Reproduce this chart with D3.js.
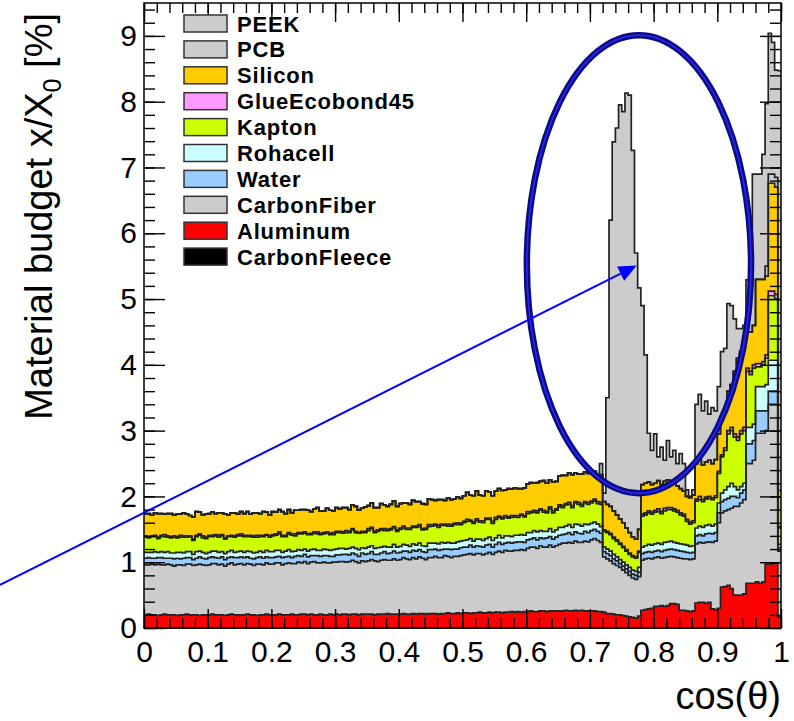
<!DOCTYPE html>
<html lang="en">
<head>
<meta charset="utf-8">
<script src="https://d3js.org/d3.v7.min.js"></script>
<style>
  body { margin: 0; background: #fff; }
  text { font-family: "Liberation Sans", Arial, Helvetica, sans-serif; }
</style>
</head>
<body>
<div id="chart"></div>
<script>
// stacking order, bottom to top
const materials = ["CarbonFleece", "Aluminum", "CarbonFiber", "Water", "Rohacell",
                   "Kapton", "GlueEcobond45", "Silicon", "PCB", "PEEK"];
const colors = ["#000000", "#ff0000", "#cccccc", "#99ccff", "#ccffff",
                "#ccff00", "#ff99ff", "#ffcc00", "#cccccc", "#cccccc"];

const xTickLabels = ["0", "0.1", "0.2", "0.3", "0.4", "0.5", "0.6", "0.7", "0.8", "0.9", "1"];
const yTickLabels = ["0", "1", "2", "3", "4", "5", "6", "7", "8", "9"];

// 200 bins in cos(theta), values in % of X0
const nBins = 200;

const carbonFleece = [
0,0,0,0,0,0,0,0,0,0, 0,0,0,0,0,0,0,0,0,0, 0,0,0,0,0,0,0,0,0,0, 0,0,0,0,0,0,0,0,0,0,
0,0,0,0,0,0,0,0,0,0, 0,0,0,0,0,0,0,0,0,0, 0,0,0,0,0,0,0,0,0,0, 0,0,0,0,0,0,0,0,0,0,
0,0,0,0,0,0,0,0,0,0, 0,0,0,0,0,0,0,0,0,0, 0,0,0,0,0,0,0,0,0,0, 0,0,0,0,0,0,0,0,0,0,
0,0,0,0,0,0,0,0,0,0, 0,0,0,0,0,0,0,0,0,0, 0,0,0,0,0,0,0,0,0,0, 0,0,0,0,0,0,0,0,0,0,
0,0,0,0,0,0,0,0,0,0, 0,0,0,0,0,0,0,0,0,0, 0,0,0,0,0,0,0,0,0,0, 0,0,0,0,0,0,0,0,0,0];

const aluminum = [
0.20,0.21,0.20,0.20,0.19,0.20,0.21,0.20,0.20,0.20,
0.19,0.20,0.20,0.21,0.20,0.20,0.20,0.19,0.20,0.20,
0.20,0.21,0.20,0.20,0.20,0.19,0.20,0.21,0.20,0.20,
0.20,0.20,0.21,0.20,0.20,0.19,0.20,0.20,0.21,0.20,
0.20,0.20,0.21,0.20,0.20,0.20,0.21,0.20,0.20,0.21,
0.21,0.20,0.21,0.20,0.20,0.21,0.20,0.20,0.21,0.20,
0.21,0.20,0.21,0.21,0.20,0.21,0.21,0.20,0.21,0.21,
0.21,0.21,0.20,0.21,0.21,0.21,0.22,0.21,0.21,0.21,
0.21,0.22,0.21,0.21,0.22,0.21,0.22,0.22,0.21,0.22,
0.22,0.22,0.21,0.22,0.22,0.23,0.22,0.22,0.23,0.22,
0.23,0.23,0.22,0.23,0.23,0.24,0.23,0.23,0.24,0.23,
0.24,0.24,0.23,0.24,0.24,0.25,0.24,0.25,0.24,0.25,
0.25,0.26,0.25,0.25,0.26,0.26,0.25,0.26,0.26,0.26,
0.26,0.26,0.27,0.26,0.26,0.27,0.26,0.27,0.26,0.26,
0.26,0.26,0.25,0.25,0.24,0.22,0.22,0.21,0.20,0.20,
0.19,0.18,0.17,0.16,0.15,0.18,0.27,0.28,0.29,0.30,
0.33,0.33,0.34,0.33,0.34,0.37,0.37,0.36,0.27,0.27,
0.26,0.25,0.26,0.38,0.39,0.39,0.38,0.39,0.29,0.28,
0.30,0.62,0.63,0.65,0.60,0.50,0.50,0.50,0.52,0.68,
0.68,0.68,0.70,0.68,0.70,0.97,0.97,0.98,0.99,0.17];

const carbonFiber = [
0.76,0.75,0.77,0.76,0.78,0.76,0.75,0.77,0.76,0.74,
0.77,0.76,0.75,0.76,0.77,0.75,0.76,0.78,0.76,0.75,
0.76,0.77,0.78,0.76,0.77,0.75,0.77,0.78,0.76,0.77,
0.78,0.76,0.77,0.77,0.75,0.78,0.77,0.76,0.78,0.77,
0.77,0.79,0.78,0.76,0.78,0.79,0.77,0.78,0.80,0.78,
0.80,0.78,0.79,0.81,0.79,0.78,0.80,0.79,0.78,0.80,
0.79,0.81,0.80,0.79,0.81,0.82,0.80,0.79,0.81,0.80,
0.81,0.83,0.82,0.80,0.82,0.83,0.81,0.82,0.84,0.82,
0.83,0.85,0.84,0.83,0.85,0.84,0.86,0.84,0.83,0.85,
0.85,0.87,0.86,0.85,0.88,0.86,0.85,0.87,0.86,0.88,
0.88,0.89,0.91,0.88,0.90,0.89,0.88,0.90,0.91,0.89,
0.91,0.93,0.92,0.94,0.93,0.92,0.94,0.93,0.95,0.93,
0.96,0.97,0.98,0.96,0.99,0.97,0.98,1.00,0.97,0.99,
1.01,1.03,1.02,1.04,1.03,1.05,1.04,1.03,1.06,1.05,
1.08,1.10,1.08,1.05,0.84,0.83,0.80,0.77,0.75,0.72,
0.69,0.66,0.63,0.60,0.59,0.60,0.76,0.77,0.77,0.75,
0.74,0.75,0.72,0.74,0.74,0.72,0.71,0.71,0.79,0.78,
0.79,0.79,0.79,0.90,0.91,0.90,0.92,0.92,1.01,1.04,
1.30,1.13,1.15,1.15,1.22,1.35,1.35,1.40,1.43,1.82,
1.82,1.87,2.26,2.28,2.26,2.03,2.43,2.42,2.41,1.00];

const water = [
0.10,0.11,0.09,0.10,0.10,0.11,0.10,0.09,0.10,0.11,
0.10,0.09,0.11,0.10,0.10,0.09,0.10,0.11,0.10,0.10,
0.11,0.10,0.09,0.10,0.11,0.10,0.10,0.09,0.11,0.10,
0.10,0.11,0.10,0.09,0.10,0.10,0.11,0.10,0.09,0.10,
0.10,0.09,0.10,0.11,0.10,0.10,0.09,0.11,0.10,0.10,
0.11,0.10,0.10,0.09,0.11,0.10,0.10,0.11,0.10,0.09,
0.11,0.10,0.11,0.12,0.10,0.11,0.11,0.10,0.12,0.11,
0.11,0.12,0.10,0.11,0.11,0.12,0.10,0.11,0.12,0.11,
0.11,0.10,0.12,0.11,0.11,0.12,0.11,0.10,0.11,0.12,
0.12,0.11,0.11,0.12,0.10,0.11,0.12,0.11,0.11,0.12,
0.12,0.11,0.13,0.12,0.12,0.11,0.12,0.13,0.12,0.11,
0.12,0.13,0.12,0.11,0.13,0.12,0.12,0.13,0.12,0.12,
0.13,0.12,0.14,0.13,0.12,0.13,0.14,0.13,0.12,0.13,
0.14,0.13,0.14,0.15,0.13,0.14,0.14,0.13,0.15,0.14,
0.14,0.14,0.14,0.14,0.08,0.08,0.08,0.07,0.07,0.06,
0.06,0.06,0.06,0.06,0.06,0.07,0.10,0.10,0.10,0.10,
0.10,0.10,0.10,0.11,0.11,0.11,0.11,0.11,0.11,0.11,
0.10,0.10,0.10,0.12,0.12,0.11,0.13,0.13,0.13,0.13,
0.15,0.17,0.17,0.17,0.18,0.15,0.13,0.15,0.15,0.30,
0.30,0.30,0.34,0.34,0.34,0.30,0.20,0.20,0.20,0.05];

const rohacell = [
0.09,0.08,0.09,0.10,0.08,0.09,0.09,0.10,0.08,0.09,
0.09,0.10,0.08,0.09,0.09,0.08,0.10,0.09,0.09,0.08,
0.08,0.09,0.10,0.09,0.08,0.09,0.09,0.10,0.08,0.09,
0.09,0.08,0.09,0.10,0.09,0.08,0.09,0.09,0.10,0.09,
0.09,0.10,0.09,0.08,0.09,0.10,0.09,0.08,0.09,0.09,
0.08,0.09,0.09,0.10,0.08,0.09,0.10,0.09,0.09,0.10,
0.09,0.10,0.09,0.08,0.10,0.09,0.09,0.10,0.08,0.09,
0.10,0.09,0.09,0.10,0.09,0.08,0.10,0.09,0.10,0.09,
0.09,0.10,0.09,0.09,0.10,0.09,0.10,0.09,0.09,0.10,
0.10,0.09,0.10,0.11,0.09,0.10,0.10,0.09,0.11,0.10,
0.10,0.11,0.10,0.09,0.10,0.11,0.10,0.10,0.11,0.10,
0.10,0.11,0.10,0.11,0.10,0.10,0.11,0.10,0.11,0.11,
0.11,0.10,0.11,0.12,0.11,0.11,0.10,0.12,0.11,0.11,
0.12,0.11,0.12,0.12,0.11,0.12,0.13,0.12,0.11,0.12,
0.11,0.11,0.11,0.10,0.07,0.07,0.07,0.07,0.06,0.06,
0.06,0.06,0.06,0.06,0.06,0.07,0.10,0.10,0.11,0.11,
0.11,0.11,0.11,0.12,0.12,0.12,0.11,0.11,0.11,0.11,
0.11,0.10,0.10,0.12,0.13,0.13,0.13,0.13,0.12,0.13,
0.15,0.13,0.15,0.18,0.20,0.15,0.12,0.10,0.10,0.25,
0.25,0.25,0.37,0.37,0.37,0.40,0.47,0.47,0.47,0.05];

const kapton = [
0.23,0.22,0.24,0.23,0.21,0.23,0.24,0.22,0.23,0.24,
0.22,0.23,0.24,0.22,0.23,0.21,0.23,0.24,0.22,0.23,
0.24,0.22,0.23,0.23,0.24,0.22,0.23,0.21,0.23,0.24,
0.23,0.24,0.22,0.23,0.24,0.23,0.22,0.24,0.23,0.22,
0.24,0.23,0.25,0.24,0.22,0.24,0.25,0.23,0.24,0.25,
0.24,0.25,0.23,0.24,0.25,0.24,0.23,0.25,0.24,0.23,
0.25,0.24,0.23,0.25,0.24,0.26,0.24,0.25,0.23,0.24,
0.25,0.26,0.24,0.25,0.26,0.24,0.25,0.26,0.25,0.24,
0.26,0.25,0.24,0.26,0.25,0.27,0.25,0.24,0.26,0.25,
0.26,0.27,0.25,0.26,0.27,0.25,0.26,0.28,0.26,0.25,
0.27,0.28,0.26,0.27,0.28,0.26,0.27,0.29,0.27,0.26,
0.28,0.27,0.29,0.28,0.27,0.29,0.28,0.27,0.29,0.28,
0.29,0.30,0.28,0.29,0.31,0.29,0.28,0.30,0.29,0.30,
0.31,0.30,0.32,0.31,0.30,0.32,0.31,0.30,0.32,0.31,
0.31,0.32,0.31,0.34,0.24,0.25,0.25,0.24,0.24,0.23,
0.22,0.21,0.20,0.20,0.20,0.23,0.47,0.47,0.48,0.47,
0.48,0.48,0.47,0.48,0.49,0.48,0.48,0.47,0.44,0.43,
0.36,0.34,0.35,0.41,0.40,0.39,0.40,0.40,0.40,0.40,
0.45,0.55,0.60,0.80,0.80,0.75,0.75,0.80,0.80,0.85,
0.80,0.85,0.30,0.30,0.33,0.40,0.98,0.98,0.93,0.25];

const glue = [
0.02,0.02,0.01,0.02,0.02,0.02,0.03,0.02,0.02,0.02,
0.02,0.03,0.02,0.02,0.01,0.02,0.02,0.02,0.03,0.02,
0.02,0.02,0.02,0.03,0.02,0.02,0.01,0.02,0.02,0.02,
0.03,0.02,0.02,0.02,0.02,0.03,0.02,0.02,0.01,0.02,
0.02,0.02,0.03,0.02,0.02,0.02,0.02,0.03,0.02,0.02,
0.02,0.01,0.02,0.02,0.03,0.02,0.02,0.02,0.02,0.03,
0.02,0.02,0.02,0.03,0.02,0.02,0.02,0.01,0.02,0.02,
0.03,0.02,0.02,0.02,0.02,0.03,0.02,0.02,0.02,0.02,
0.02,0.03,0.02,0.02,0.02,0.02,0.03,0.02,0.02,0.03,
0.02,0.02,0.03,0.02,0.02,0.03,0.02,0.02,0.03,0.02,
0.02,0.03,0.02,0.02,0.03,0.02,0.03,0.02,0.02,0.03,
0.03,0.02,0.02,0.03,0.02,0.03,0.02,0.03,0.02,0.02,
0.03,0.02,0.03,0.03,0.02,0.03,0.02,0.03,0.03,0.02,
0.03,0.03,0.02,0.03,0.03,0.02,0.03,0.03,0.02,0.03,
0.03,0.03,0.03,0.03,0.02,0.02,0.02,0.02,0.02,0.02,
0.02,0.02,0.02,0.02,0.02,0.02,0.03,0.03,0.03,0.03,
0.03,0.04,0.03,0.04,0.03,0.03,0.03,0.03,0.03,0.03,
0.03,0.03,0.03,0.03,0.05,0.03,0.03,0.03,0.03,0.03,
0.03,0.03,0.04,0.05,0.05,0.05,0.05,0.05,0.05,0.05,
0.05,0.05,0.05,0.05,0.05,0.05,0.07,0.07,0.07,0.02];

const silicon = [
0.33,0.35,0.32,0.34,0.36,0.33,0.31,0.34,0.35,0.32,
0.34,0.32,0.35,0.33,0.31,0.34,0.36,0.33,0.32,0.35,
0.33,0.35,0.32,0.34,0.33,0.36,0.32,0.34,0.35,0.31,
0.34,0.33,0.36,0.32,0.35,0.34,0.33,0.36,0.34,0.32,
0.35,0.33,0.34,0.36,0.33,0.35,0.32,0.36,0.34,0.35,
0.34,0.36,0.33,0.35,0.37,0.34,0.33,0.36,0.35,0.33,
0.36,0.34,0.37,0.35,0.33,0.36,0.38,0.34,0.35,0.37,
0.35,0.37,0.36,0.34,0.38,0.36,0.35,0.37,0.39,0.36,
0.37,0.35,0.38,0.36,0.39,0.37,0.35,0.38,0.36,0.39,
0.38,0.36,0.39,0.37,0.36,0.40,0.38,0.37,0.39,0.38,
0.39,0.41,0.38,0.40,0.42,0.39,0.38,0.41,0.40,0.39,
0.40,0.42,0.41,0.39,0.43,0.40,0.42,0.41,0.39,0.42,
0.42,0.44,0.41,0.43,0.42,0.45,0.43,0.41,0.44,0.42,
0.44,0.46,0.43,0.45,0.47,0.44,0.43,0.46,0.45,0.44,
0.43,0.42,0.41,0.42,0.43,0.41,0.41,0.40,0.38,0.37,
0.36,0.33,0.31,0.28,0.27,0.33,0.45,0.45,0.44,0.42,
0.41,0.43,0.41,0.41,0.42,0.37,0.41,0.37,0.37,0.35,
0.35,0.37,0.39,0.54,0.55,0.53,0.53,0.55,0.52,0.55,
0.57,0.57,0.56,0.60,0.65,0.95,1.20,1.20,1.25,0.55,
0.60,0.60,1.28,1.28,1.25,1.20,1.64,1.64,1.63,0.55];

const pcb = [
0,0,0,0,0,0,0,0,0,0, 0,0,0,0,0,0,0,0,0,0, 0,0,0,0,0,0,0,0,0,0, 0,0,0,0,0,0,0,0,0,0,
0,0,0,0,0,0,0,0,0,0, 0,0,0,0,0,0,0,0,0,0, 0,0,0,0,0,0,0,0,0,0, 0,0,0,0,0,0,0,0,0,0,
0,0,0,0,0,0,0,0,0,0, 0,0,0,0,0,0,0,0,0,0, 0,0,0,0,0,0,0,0,0,0, 0,0,0,0,0,0,0,0,0,0,
0,0,0,0,0,0,0,0,0,0, 0,0,0,0,0,0,0,0,0,0, 0,0,0,0,0,0,0,0,0,0, 0,0,0,0,0,0,0,0,0,0,
0,0,0,0,0,0,0,0,0,0, 0,0,0,0,0,0,0,0,0,0, 0,0,0,0,0,0,0,0,0,0,
0,0,0,0,0,0.15,0.14,0.14,0.15,1.30];

const peek = [
0,0,0,0,0,0,0,0,0,0, 0,0,0,0,0,0,0,0,0,0, 0,0,0,0,0,0,0,0,0,0, 0,0,0,0,0,0,0,0,0,0,
0,0,0,0,0,0,0,0,0,0, 0,0,0,0,0,0,0,0,0,0, 0,0,0,0,0,0,0,0,0,0, 0,0,0,0,0,0,0,0,0,0,
0,0,0,0,0,0,0,0,0,0, 0,0,0,0,0,0,0,0,0,0, 0,0,0,0,0,0,0,0,0,0, 0,0,0,0,0,0,0,0,0,0,
0,0,0,0,0,0,0,0,0,0, 0,0,0,0,0,0,0,0,0,0,
0,0,0,0.17,0.13,1.62,4.35,5.61,5.88,6.29,
6.25,6.61,6.65,5.88,4.35,3.67,2.72,1.95,0.74,0.52,
0.75,0.36,0.57,0.32,0.60,0.40,0.48,0.34,0.53,0.42,
0.10,0.02,0.08,0.90,1.00,0.82,0.93,0.70,0.85,0.74,
0.72,1.00,0.95,1.33,1.20,0.80,0.45,0.35,0.30,0.79,
0.79,2.30,1.60,1.60,1.90,2.47,2.14,2.00,1.63,5.08];

// annotation (data coordinates)
const ellipseCenter = [0.777, 5.53];
const ellipseRadii = [0.176, 3.48];
const arrowStart = [-0.226, 0.654];
const arrowEnd = [0.7735, 5.51];

const series = [carbonFleece, aluminum, carbonFiber, water, rohacell,
                kapton, glue, silicon, pcb, peek];

const width = 794, height = 721;
const x = d3.scaleLinear().domain([0, 1]).range([144, 781]);
const y = d3.scaleLinear().domain([0, 9.5]).range([628, 3]);
const binW = 1 / nBins;

const svg = d3.select("#chart").append("svg")
  .attr("width", width)
  .attr("height", height);

// stack
const table = d3.range(nBins).map(i => {
  const row = {};
  materials.forEach((m, k) => row[m] = series[k][i]);
  return row;
});
const stacked = d3.stack().keys(materials)(table);

function stepPoints(layer) {
  const pts = [];
  layer.forEach((d, i) => {
    pts.push({x: i * binW, y0: d[0], y1: d[1]});
    pts.push({x: (i + 1) * binW, y0: d[0], y1: d[1]});
  });
  return pts;
}

const area = d3.area()
  .x(p => x(p.x))
  .y0(p => y(p.y0))
  .y1(p => y(p.y1));
const line = d3.line()
  .x(p => x(p.x))
  .y(p => y(p.y1));

svg.append("g")
  .selectAll("path")
  .data(stacked)
  .join("path")
  .attr("fill", (d, i) => colors[i])
  .attr("d", d => area(stepPoints(d)));

svg.append("g")
  .selectAll("path")
  .data(stacked)
  .join("path")
  .attr("fill", "none")
  .attr("stroke", "#222")
  .attr("stroke-width", 1.7)
  .attr("d", d => line(stepPoints(d)));

// axes, ROOT style ticks inside the frame
const xTicks = xTickLabels.map(Number);
const yTicks = yTickLabels.map(Number);
const xMinor = d3.range(0, 1.0001, 0.02);
const yMinor = d3.range(0, 9.5001, 0.2);

function styleAxis(g) {
  g.select(".domain").remove();
  g.attr("font-family", "Liberation Sans, Arial, sans-serif")
   .attr("font-size", 30)
   .attr("color", "#000");
  g.selectAll("line").attr("stroke-width", 1.4);
}

svg.append("g").attr("transform", "translate(0,628)")
  .call(d3.axisBottom(x).tickValues(xMinor).tickFormat("").tickSize(-10))
  .call(styleAxis);
svg.append("g").attr("transform", "translate(0,628)")
  .call(d3.axisBottom(x).tickValues(xTicks).tickFormat((d, i) => xTickLabels[i])
        .tickSize(-19).tickPadding(13))
  .call(styleAxis);
svg.append("g").attr("transform", "translate(0,3)")
  .call(d3.axisTop(x).tickValues(xMinor).tickFormat("").tickSize(-10))
  .call(styleAxis);
svg.append("g").attr("transform", "translate(0,3)")
  .call(d3.axisTop(x).tickValues(xTicks).tickFormat("").tickSize(-19))
  .call(styleAxis);

svg.append("g").attr("transform", "translate(144,0)")
  .call(d3.axisLeft(y).tickValues(yMinor).tickFormat("").tickSize(-11))
  .call(styleAxis);
svg.append("g").attr("transform", "translate(144,0)")
  .call(d3.axisLeft(y).tickValues(yTicks).tickFormat((d, i) => yTickLabels[i])
        .tickSize(-21).tickPadding(7))
  .call(styleAxis);
svg.append("g").attr("transform", "translate(781,0)")
  .call(d3.axisRight(y).tickValues(yMinor).tickFormat("").tickSize(-11))
  .call(styleAxis);
svg.append("g").attr("transform", "translate(781,0)")
  .call(d3.axisRight(y).tickValues(yTicks).tickFormat("").tickSize(-21))
  .call(styleAxis);

svg.append("rect")
  .attr("x", x(0)).attr("y", y(9.5))
  .attr("width", x(1) - x(0)).attr("height", y(0) - y(9.5))
  .attr("fill", "none")
  .attr("stroke", "#000")
  .attr("stroke-width", 1.5);

// axis titles
svg.append("text")
  .attr("x", 781).attr("y", 709)
  .attr("text-anchor", "end")
  .attr("font-size", 38)
  .text("cos(\u03b8)");

const yTitle = svg.append("text")
  .attr("transform", "translate(52,13) rotate(-90)")
  .attr("text-anchor", "end")
  .attr("font-size", 38);
yTitle.append("tspan").text("Material budget x/X");
yTitle.append("tspan").attr("font-size", 25).attr("dy", 9).text("0");
yTitle.append("tspan").attr("dy", -9).text(" [%]");

// legend
const legendNames = materials.slice().reverse();
const legendColors = colors.slice().reverse();
const legend = svg.append("g");
legendNames.forEach((name, k) => {
  const cy = 23.5 + k * 25.9;
  legend.append("rect")
    .attr("x", 184).attr("y", cy - 8.5)
    .attr("width", 43).attr("height", 17)
    .attr("fill", legendColors[k])
    .attr("stroke", "#333")
    .attr("stroke-width", 1.5);
  legend.append("text")
    .attr("x", 237).attr("y", cy + 8)
    .attr("font-size", 22)
    .attr("letter-spacing", 0.8)
    .attr("font-weight", "bold")
    .text(name);
});

// ellipse and arrow annotation
const ex = x(ellipseCenter[0]), ey = y(ellipseCenter[1]);
const rx = x(ellipseRadii[0]) - x(0), ry = y(0) - y(ellipseRadii[1]);
svg.append("ellipse")
  .attr("cx", ex).attr("cy", ey).attr("rx", rx).attr("ry", ry)
  .attr("fill", "none").attr("stroke", "#0c0c80").attr("stroke-width", 6.5);
svg.append("ellipse")
  .attr("cx", ex).attr("cy", ey).attr("rx", rx).attr("ry", ry)
  .attr("fill", "none").attr("stroke", "#2626ff").attr("stroke-width", 1.6);

const ax0 = x(arrowStart[0]), ay0 = y(arrowStart[1]);
const ax1 = x(arrowEnd[0]), ay1 = y(arrowEnd[1]);
const ang = Math.atan2(ay1 - ay0, ax1 - ax0);
const headLen = 18, headHalf = 8;
const bx = ax1 - headLen * Math.cos(ang), by = ay1 - headLen * Math.sin(ang);
svg.append("line")
  .attr("x1", ax0).attr("y1", ay0).attr("x2", bx).attr("y2", by)
  .attr("stroke", "#0000ff").attr("stroke-width", 2);
svg.append("path")
  .attr("d", `M${ax1},${ay1}L${bx - headHalf * Math.sin(ang)},${by + headHalf * Math.cos(ang)}` +
             `L${bx + headHalf * Math.sin(ang)},${by - headHalf * Math.cos(ang)}Z`)
  .attr("fill", "#0000ff");
</script>
</body>
</html>
